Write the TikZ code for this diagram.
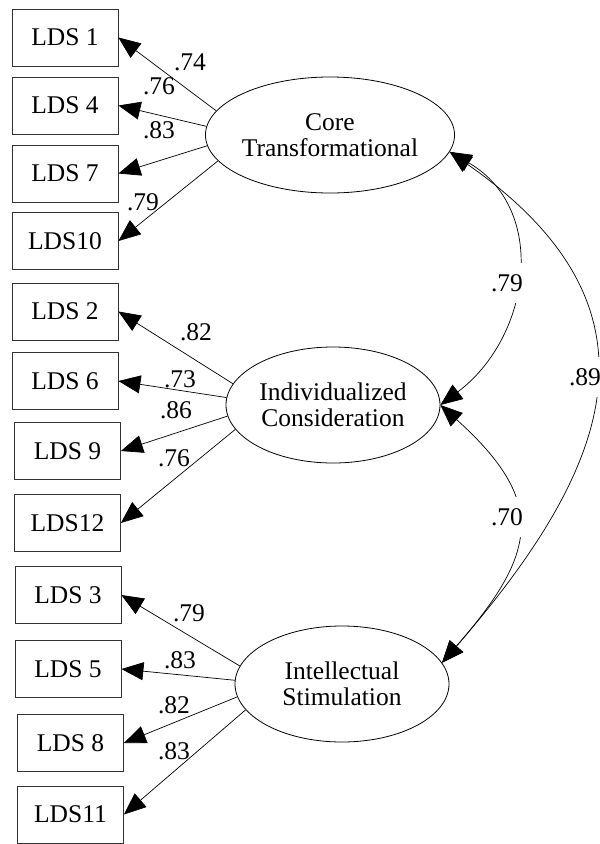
\documentclass[tikz,border=0pt]{standalone}
\usepackage{fontspec}
\setmainfont{Liberation Serif}
\usetikzlibrary{arrows.meta,shapes.geometric}

\begin{document}
\begin{tikzpicture}[x=1pt,y=1pt,
    boite/.style={draw=black!80,line width=0.8pt,minimum width=106pt,minimum height=57pt,inner sep=0pt,font=\fontsize{25.5}{26}\selectfont},
    latent/.style={draw,ellipse,line width=0.8pt,minimum width=214pt,minimum height=116pt,inner sep=0pt,align=center,font=\fontsize{25.5}{26}\selectfont},
    fleche/.style={line width=0.7pt,-{Triangle[length=22pt,width=18pt]}},
    corr/.style={line width=0.7pt,{Triangle[length=22pt,width=18pt]}-{Triangle[length=22pt,width=18pt]}},
    poids/.style={inner sep=1pt,font=\fontsize{25.5}{26}\selectfont}]
  \useasboundingbox (0,0) rectangle (600,-844);

  % FACTEURS
  \node[latent] (core) at (330,-135) {Core\\Transformational};
  \node[latent] (ind) at (333,-405) {Individualized\\Consideration};
  \node[latent] (intel) at (342,-684) {Intellectual\\Stimulation};

  % INDICATEURS
  \node[boite] (lds1) at (65,-37.5) {LDS 1};
  \node[boite] (lds4) at (65,-105.5) {LDS 4};
  \node[boite] (lds7) at (65,-173.5) {LDS 7};
  \node[boite] (lds10) at (65,-241) {LDS10};

  \node[boite] (lds2) at (65,-311.5) {LDS 2};
  \node[boite] (lds6) at (65,-381) {LDS 6};
  \node[boite] (lds9) at (67.5,-451) {LDS 9};
  \node[boite] (lds12) at (67.5,-523) {LDS12};

  \node[boite] (lds3) at (68,-595) {LDS 3};
  \node[boite] (lds5) at (68,-669) {LDS 5};
  \node[boite] (lds8) at (70.5,-743) {LDS 8};
  \node[boite] (lds11) at (70.5,-814.5) {LDS11};

  % SATURATIONS
  \foreach \b/\a in {lds1/168, lds4/176, lds7/185, lds10/193}
    \draw[fleche] (core.\a) -- (\b.east);
  \foreach \b/\a in {lds2/168, lds6/176, lds9/186, lds12/194}
    \draw[fleche] (ind.\a) -- (\b.east);
  \foreach \b/\a in {lds3/170, lds5/178, lds8/187, lds11/195}
    \draw[fleche] (intel.\a) -- (\b.east);

  \node[poids] (w1) at (190,-62) {.74};
  \node[poids] (w4) at (159,-86) {.76};
  \node[poids] (w7) at (159,-130) {.83};
  \node[poids] (w10) at (143,-202) {.79};
  \node[poids] (w2) at (196,-332) {.82};
  \node[poids] (w6) at (180,-379) {.73};
  \node[poids] (w9) at (176,-410) {.86};
  \node[poids] (w12) at (174,-458) {.76};
  \node[poids] (w3) at (189,-613) {.79};
  \node[poids] (w5) at (180,-660) {.83};
  \node[poids] (w8) at (174,-705) {.82};
  \node[poids] (w11) at (174,-751) {.83};

  % CORRELATIONS
  \draw[corr] (core.-8) .. controls +(-30:114) and +(37:114) .. (ind.east);
  \draw[corr] (ind.east) .. controls +(-42:145) and +(49:145) .. (intel.12);
  \draw[corr] (core.-8) .. controls +(-35:268) and +(49:268) .. (intel.12);
  \node[poids,fill=white,inner ysep=11pt] (r12) at (507,-283) {.79};
  \node[poids,fill=white,inner ysep=11pt] (r23) at (507,-517) {.70};
  \node[poids,fill=white,inner ysep=11pt] (r13) at (585,-377) {.89};
\end{tikzpicture}
\end{document}
